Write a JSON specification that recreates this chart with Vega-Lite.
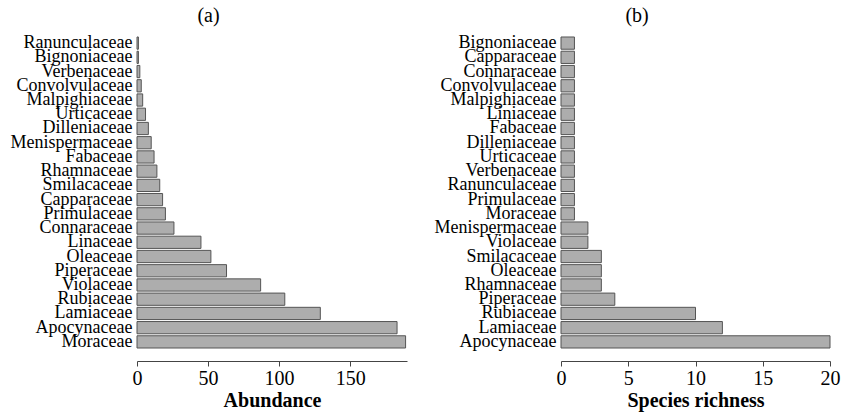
{
  "$schema": "https://vega.github.io/schema/vega-lite/v6.json",
  "background": "white",
  "padding": {"left": 10, "top": 5, "right": 5, "bottom": 5},
  "datasets": {
    "a": [
      {"family": "Ranunculaceae", "abundance": 1},
      {"family": "Bignoniaceae", "abundance": 1},
      {"family": "Verbenaceae", "abundance": 2},
      {"family": "Convolvulaceae", "abundance": 3},
      {"family": "Malpighiaceae", "abundance": 4},
      {"family": "Urticaceae", "abundance": 6},
      {"family": "Dilleniaceae", "abundance": 8},
      {"family": "Menispermaceae", "abundance": 10},
      {"family": "Fabaceae", "abundance": 12},
      {"family": "Rhamnaceae", "abundance": 14},
      {"family": "Smilacaceae", "abundance": 16},
      {"family": "Capparaceae", "abundance": 18},
      {"family": "Primulaceae", "abundance": 20},
      {"family": "Connaraceae", "abundance": 26},
      {"family": "Linaceae", "abundance": 45},
      {"family": "Oleaceae", "abundance": 52},
      {"family": "Piperaceae", "abundance": 63},
      {"family": "Violaceae", "abundance": 87},
      {"family": "Rubiaceae", "abundance": 104},
      {"family": "Lamiaceae", "abundance": 129},
      {"family": "Apocynaceae", "abundance": 183},
      {"family": "Moraceae", "abundance": 189}
    ],
    "b": [
      {"family": "Bignoniaceae", "richness": 1},
      {"family": "Capparaceae", "richness": 1},
      {"family": "Connaraceae", "richness": 1},
      {"family": "Convolvulaceae", "richness": 1},
      {"family": "Malpighiaceae", "richness": 1},
      {"family": "Liniaceae", "richness": 1},
      {"family": "Fabaceae", "richness": 1},
      {"family": "Dilleniaceae", "richness": 1},
      {"family": "Urticaceae", "richness": 1},
      {"family": "Verbenaceae", "richness": 1},
      {"family": "Ranunculaceae", "richness": 1},
      {"family": "Primulaceae", "richness": 1},
      {"family": "Moraceae", "richness": 1},
      {"family": "Menispermaceae", "richness": 2},
      {"family": "Violaceae", "richness": 2},
      {"family": "Smilacaceae", "richness": 3},
      {"family": "Oleaceae", "richness": 3},
      {"family": "Rhamnaceae", "richness": 3},
      {"family": "Piperaceae", "richness": 4},
      {"family": "Rubiaceae", "richness": 10},
      {"family": "Lamiaceae", "richness": 12},
      {"family": "Apocynaceae", "richness": 20}
    ]
  },
  "config": {
    "view": {"stroke": null},
    "font": "Liberation Serif",
    "title": {"font": "Liberation Serif", "fontSize": 20, "fontWeight": "normal", "color": "black", "frame": "bounds", "anchor": "middle", "offset": 8},
    "axis": {"labelFont": "Liberation Serif", "titleFont": "Liberation Serif", "labelColor": "black", "titleColor": "black", "grid": false},
    "axisX": {"labelFont": "Liberation Serif", "titleFont": "Liberation Serif", "labelFontSize": 20, "titleFontSize": 20, "titleFontWeight": "bold", "domainColor": "#444", "tickColor": "#444", "tickSize": 5, "labelPadding": 2, "titlePadding": 2, "offset": 12, "labelFlush": false},
    "axisY": {"labelFont": "Liberation Serif", "labelFontSize": 18, "ticks": false, "domain": false, "labelPadding": 5, "title": null}
  },
  "spacing": 27,
  "hconcat": [
    {
      "title": {"text": "(a)"},
      "width": 270,
      "height": 313,
      "data": {"name": "a"},
      "mark": {"type": "bar", "fill": "#adadad", "stroke": "#555555", "strokeWidth": 1},
      "encoding": {
        "y": {
          "field": "family", "type": "nominal",
          "sort": ["Ranunculaceae","Bignoniaceae","Verbenaceae","Convolvulaceae","Malpighiaceae","Urticaceae","Dilleniaceae","Menispermaceae","Fabaceae","Rhamnaceae","Smilacaceae","Capparaceae","Primulaceae","Connaraceae","Linaceae","Oleaceae","Piperaceae","Violaceae","Rubiaceae","Lamiaceae","Apocynaceae","Moraceae"],
          "scale": {"paddingInner": 0.14, "paddingOuter": 0.07},
          "axis": {"title": null, "labelFont": "Liberation Serif"}
        },
        "x": {
          "field": "abundance", "type": "quantitative",
          "scale": {"domain": [0, 190], "nice": false},
          "axis": {"values": [0, 50, 100, 150], "title": "Abundance", "labelFont": "Liberation Serif", "titleFont": "Liberation Serif"}
        }
      }
    },
    {
      "title": {"text": "(b)"},
      "width": 269,
      "height": 313,
      "data": {"name": "b"},
      "mark": {"type": "bar", "fill": "#adadad", "stroke": "#555555", "strokeWidth": 1},
      "encoding": {
        "y": {
          "field": "family", "type": "nominal",
          "sort": ["Bignoniaceae","Capparaceae","Connaraceae","Convolvulaceae","Malpighiaceae","Liniaceae","Fabaceae","Dilleniaceae","Urticaceae","Verbenaceae","Ranunculaceae","Primulaceae","Moraceae","Menispermaceae","Violaceae","Smilacaceae","Oleaceae","Rhamnaceae","Piperaceae","Rubiaceae","Lamiaceae","Apocynaceae"],
          "scale": {"paddingInner": 0.14, "paddingOuter": 0.07},
          "axis": {"title": null, "labelFont": "Liberation Serif"}
        },
        "x": {
          "field": "richness", "type": "quantitative",
          "scale": {"domain": [0, 20], "nice": false},
          "axis": {"values": [0, 5, 10, 15, 20], "title": "Species richness", "labelFont": "Liberation Serif", "titleFont": "Liberation Serif"}
        }
      }
    }
  ]
}
